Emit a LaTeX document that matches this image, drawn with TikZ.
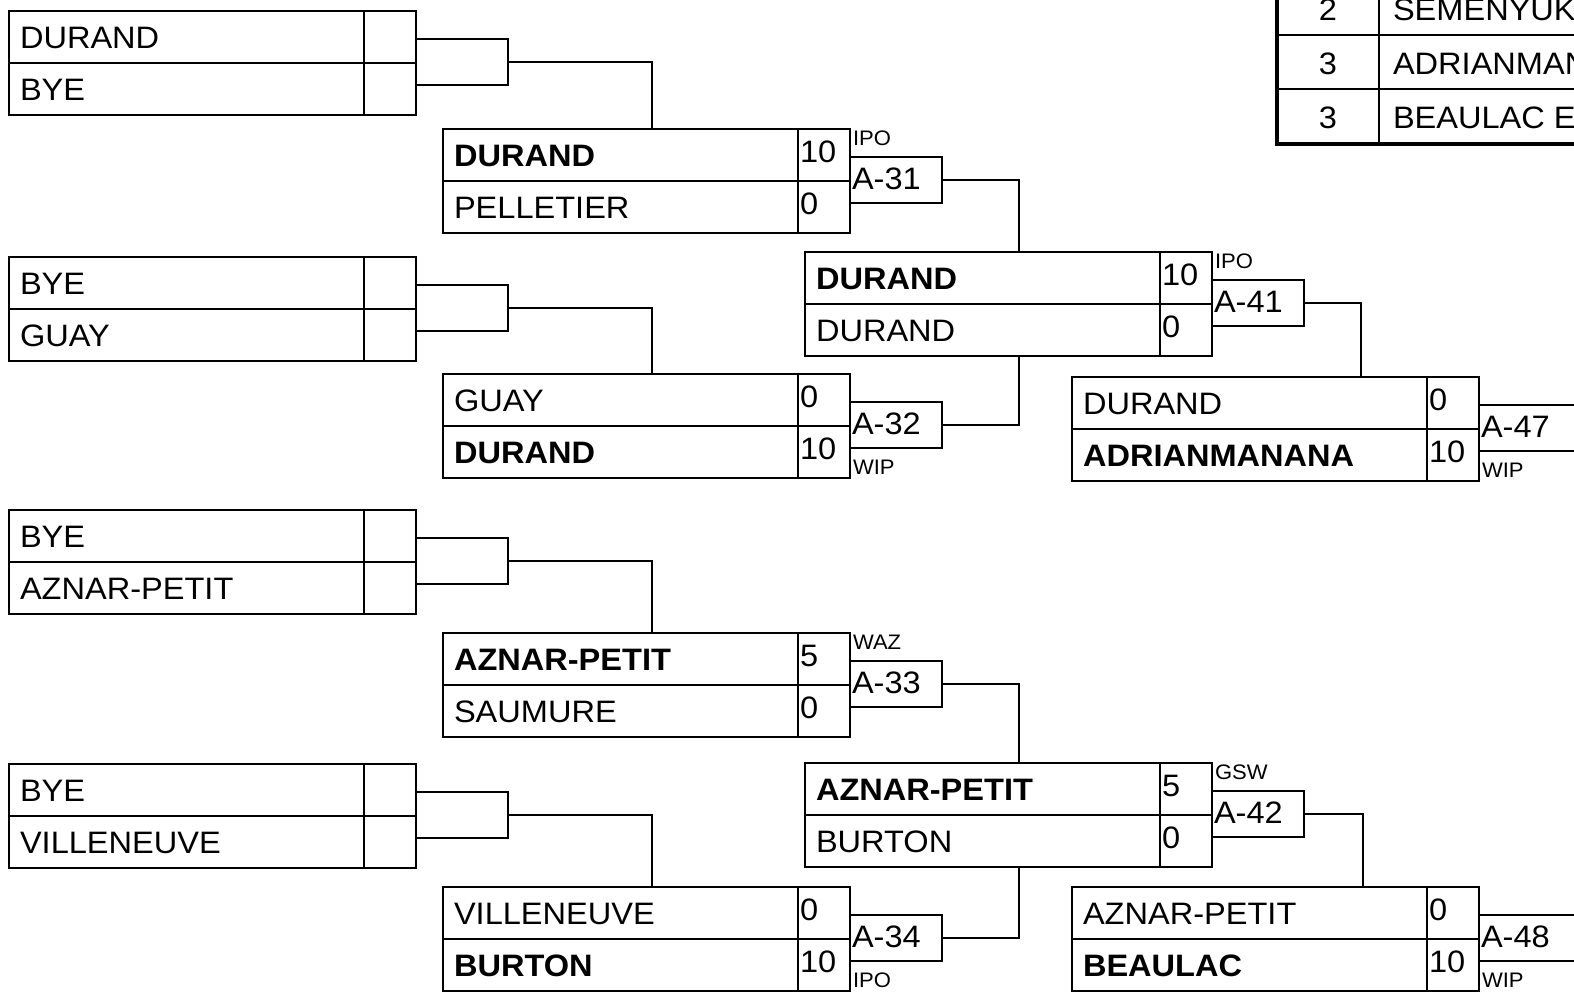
\documentclass[tikz,border=0pt]{standalone}
\usepackage{fontspec}
\setmainfont[FakeStretch=1.05]{Liberation Sans}
\usetikzlibrary{calc}
\tikzset{
  boxline/.style={draw=black, line width=2pt},
  namebox/.style={boxline, rectangle, minimum width=355pt, minimum height=104pt, inner sep=0pt, outer sep=0pt, anchor=north west},
  scorebox/.style={boxline, rectangle, minimum width=52pt, minimum height=104pt, inner sep=0pt, outer sep=0pt, anchor=north west},
  labelbox/.style={boxline, rectangle, minimum width=92pt, minimum height=46pt, inner sep=0pt, outer sep=0pt, anchor=north west},
  widelabel/.style={minimum width=140pt},
  txt/.style={anchor=base west, inner sep=0pt, outer sep=0pt, font=\fontsize{31}{36}\selectfont},
  ctxt/.style={anchor=base, inner sep=0pt, outer sep=0pt, font=\fontsize{31}{36}\selectfont},
  small/.style={anchor=base west, inner sep=0pt, outer sep=0pt, font=\fontsize{21}{24}\selectfont},
  conn/.style={draw=black, line width=2pt},
  midline/.style={draw=black, line width=2.8pt},
  tabline/.style={draw=black, line width=2pt},
  tabframe/.style={draw=black, line width=3.2pt},
}
\newcommand{\matchgrp}[9]{%
  \node[namebox] (#1) at (#2,#3) {};
  \node[scorebox] (#1s) at (#1.north east) {};
  \node[labelbox,#9] (#1l) at ($(#1s.north east)+(0,28)$) {};
  \draw[midline] (#1.west) -- (#1s.east);
  \node[txt] (#1a) at ($(#1.north west)+(11,37)$) {#4};
  \node[txt] (#1b) at ($(#1.north west)+(11,89)$) {#5};
  \node[txt] (#1c) at ($(#1s.north west)+(2,33)$) {#6};
  \node[txt] (#1d) at ($(#1s.north west)+(2,85)$) {#7};
  \node[txt] (#1e) at ($(#1l.north west)+(2,32)$) {#8};
}
\begin{document}
\begin{tikzpicture}[x=1pt,y=-1pt]
\useasboundingbox (0,0) rectangle (1574,991);
\fill[white] (0,0) rectangle (1574,991);

% round 1
\matchgrp{p1}{9}{11}{DURAND}{BYE}{}{}{}{}
\matchgrp{p2}{9}{257}{BYE}{GUAY}{}{}{}{}
\matchgrp{p3}{9}{510}{BYE}{AZNAR-PETIT}{}{}{}{}
\matchgrp{p4}{9}{764}{BYE}{VILLENEUVE}{}{}{}{}

% round 2
\matchgrp{q31}{443}{129}{\bfseries DURAND}{PELLETIER}{10}{0}{A-31}{}
\matchgrp{q32}{443}{374}{GUAY}{\bfseries DURAND}{0}{10}{A-32}{}
\matchgrp{q33}{443}{633}{\bfseries AZNAR-PETIT}{SAUMURE}{5}{0}{A-33}{}
\matchgrp{q34}{443}{887}{VILLENEUVE}{\bfseries BURTON}{0}{10}{A-34}{}

% round 3
\matchgrp{q41}{805}{252}{\bfseries DURAND}{DURAND}{10}{0}{A-41}{}
\matchgrp{q42}{805}{763}{\bfseries AZNAR-PETIT}{BURTON}{5}{0}{A-42}{}

% round 4
\matchgrp{q47}{1072}{377}{DURAND}{\bfseries ADRIANMANANA}{0}{10}{A-47}{widelabel}
\matchgrp{q48}{1072}{887}{AZNAR-PETIT}{\bfseries BEAULAC}{0}{10}{A-48}{widelabel}

% small codes
\node[small] (k31) at ($(q31l.north west)+(3,-12)$) {IPO};
\node[small] (k32) at ($(q32l.south west)+(3,26)$) {WIP};
\node[small] (k33) at ($(q33l.north west)+(3,-12)$) {WAZ};
\node[small] (k34) at ($(q34l.south west)+(3,26)$) {IPO};
\node[small] (k41) at ($(q41l.north west)+(3,-12)$) {IPO};
\node[small] (k42) at ($(q42l.north west)+(3,-12)$) {GSW};
\node[small] (k47) at ($(q47l.south west)+(3,26)$) {WIP};
\node[small] (k48) at ($(q48l.south west)+(3,26)$) {WIP};

% connectors
\draw[conn] (p1l.east) -| ($(q31.north west)+(209,0)$);
\draw[conn] (p2l.east) -| ($(q32.north west)+(209,0)$);
\draw[conn] (p3l.east) -| ($(q33.north west)+(209,0)$);
\draw[conn] (p4l.east) -| ($(q34.north west)+(209,0)$);
\draw[conn] (q31l.east) -| ($(q41.north west)+(214,0)$);
\draw[conn] (q32l.east) -| ($(q41.south west)+(214,0)$);
\draw[conn] (q33l.east) -| ($(q42.north west)+(214,0)$);
\draw[conn] (q34l.east) -| ($(q42.south west)+(214,0)$);
\draw[conn] (q41l.east) -| ($(q47.north west)+(289,0)$);
\draw[conn] (q42l.east) -| ($(q48.north west)+(291,0)$);

% standings table (top right)
\draw[tabline] (1277,35) -- (1600,35);
\draw[tabline] (1277,89) -- (1600,89);
\draw[tabline] (1379,-10) -- (1379,144);
\draw[tabframe] (1277,-10) -- (1277,144) -- (1600,144);
\node[ctxt] (r1) at (1328,20) {2};
\node[ctxt] (r2) at (1328,74) {3};
\node[ctxt] (r3) at (1328,128) {3};
\node[txt] (n1) at (1393,20) {SEMENYUK};
\node[txt] (n2) at (1393,74) {ADRIANMANANA};
\node[txt] (n3) at (1393,128) {BEAULAC E};
\end{tikzpicture}
\end{document}
